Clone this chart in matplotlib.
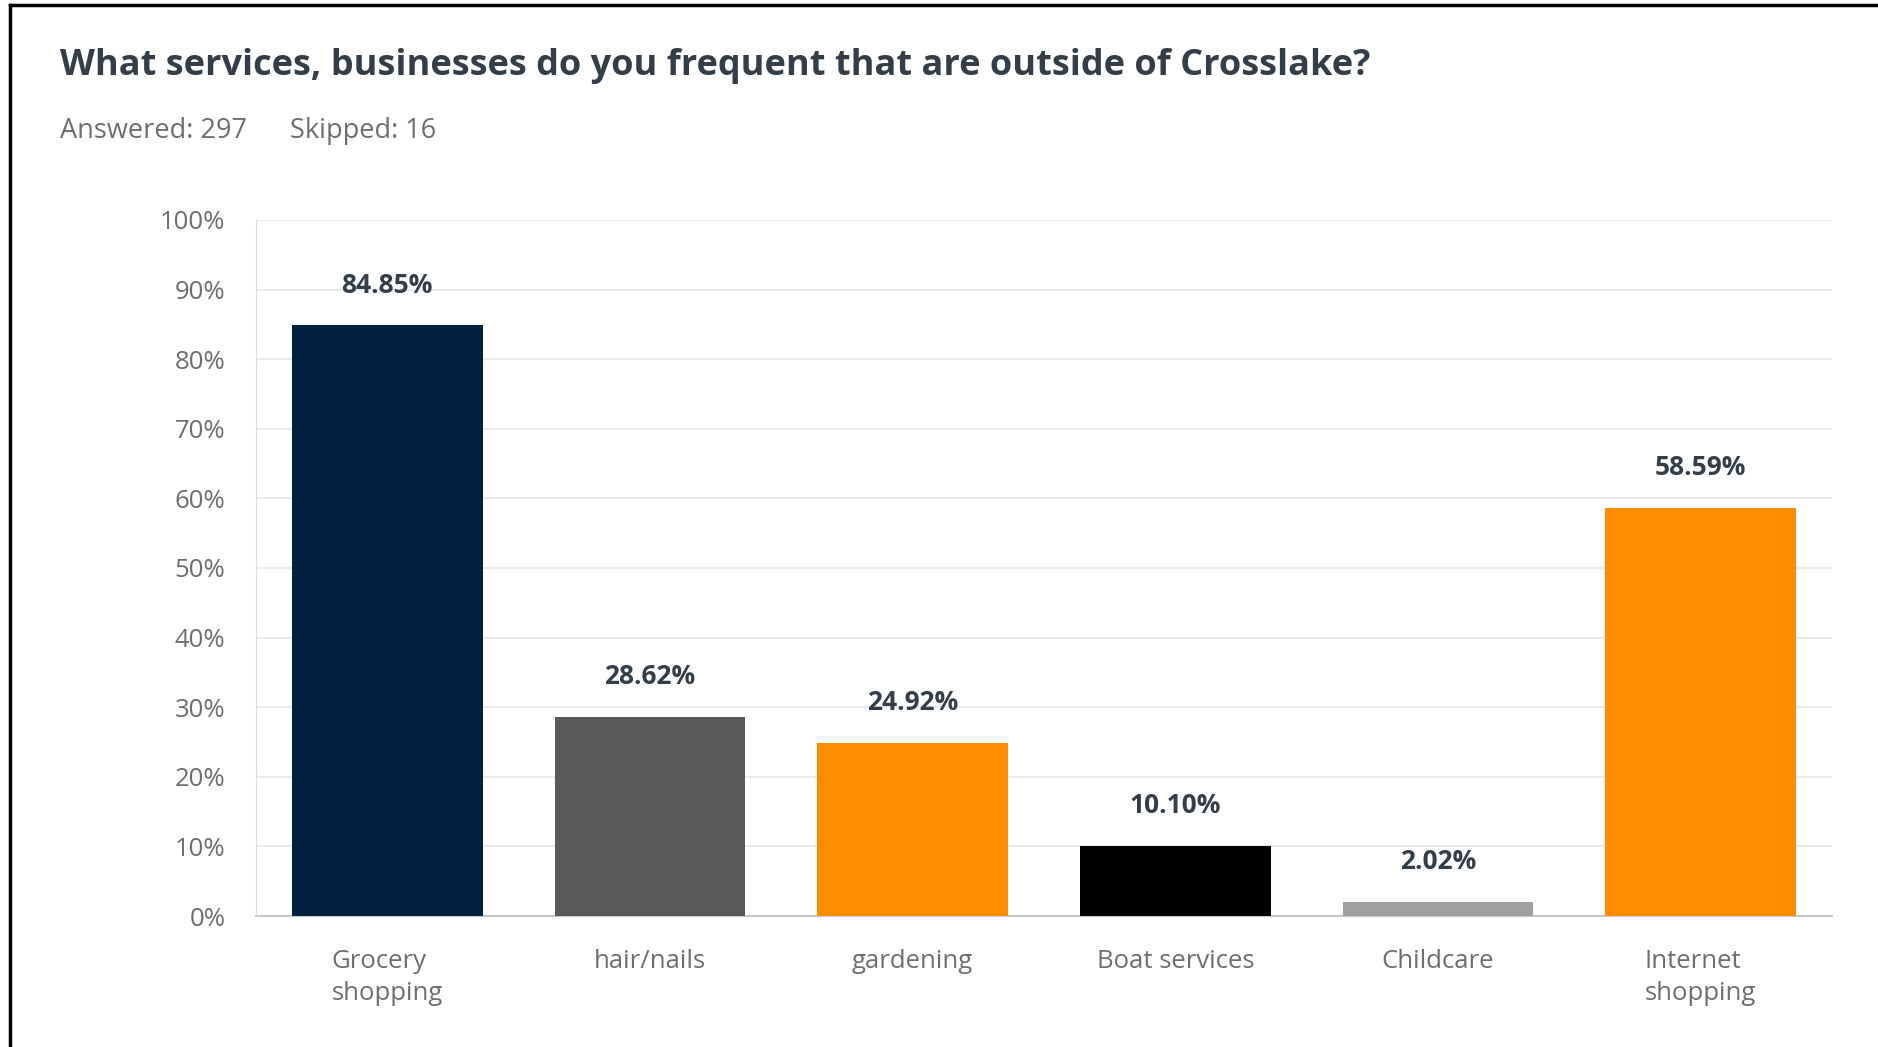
import matplotlib.pyplot as plt
from matplotlib.lines import Line2D

# Data
categories = ["Grocery\nshopping", "hair/nails", "gardening", "Boat services", "Childcare", "Internet\nshopping"]
values = [84.85, 28.62, 24.92, 10.10, 2.02, 58.59]
bar_colors = ["#00223f", "#58595b", "#ff8b00", "#000000", "#a0a0a0", "#ff8b00"]
yticks = [0, 10, 20, 30, 40, 50, 60, 70, 80, 90, 100]

title = "What services, businesses do you frequent that are outside of Crosslake?"
answered = "Answered: 297"
skipped = "Skipped: 16"

plt.rcParams['font.family'] = ['Open Sans', 'DejaVu Sans']

fig = plt.figure(figsize=(18.78, 10.47), dpi=100)
ax = fig.add_axes([0.1363, 0.1251, 0.8392, 0.6648])

x = range(len(categories))
ax.bar(x, values, width=0.725, color=bar_colors, zorder=3)

for i, v in enumerate(values):
    ax.annotate(f"{v:.2f}%", (i, v), xytext=(0, 29), textcoords="offset points",
                ha="center", va="center", fontsize=19, fontweight="bold", color="#333e48")

ax.set_xlim(-0.5, len(categories) - 0.5)
ax.set_ylim(0, 100)
ax.set_yticks(yticks)
ax.set_yticklabels([f"{t}%" for t in yticks])
ax.set_xticks(list(x))
ax.set_xticklabels(categories, multialignment="left", linespacing=1.35)
ax.tick_params(axis="y", length=0, pad=22, labelsize=18.5, labelcolor="#6d6e71")
ax.tick_params(axis="x", length=0, pad=24, labelsize=18.5, labelcolor="#6d6e71")

ax.grid(axis="y", color="#ececec", linewidth=1.5, zorder=0)
for s in ["top", "right"]:
    ax.spines[s].set_visible(False)
ax.spines["left"].set_color("#dddddd")
ax.spines["bottom"].set_color("#c8c8c8")
ax.spines["bottom"].set_linewidth(1.5)

fig.text(60 / 1878, 1 - 66 / 1047, title, fontsize=26, fontweight="bold",
         color="#333e48", va="center", ha="left")
fig.text(60 / 1878, 1 - 131 / 1047, answered, fontsize=19.5, color="#6d6e71", va="center", ha="left")
fig.text(290 / 1878, 1 - 131 / 1047, skipped, fontsize=19.5, color="#6d6e71", va="center", ha="left")

# frame lines (top and left)
fig.add_artist(Line2D([10 / 1878, 1], [1 - 5 / 1047, 1 - 5 / 1047], color="black", linewidth=2.5,
                      transform=fig.transFigure))
fig.add_artist(Line2D([10 / 1878, 10 / 1878], [0, 1 - 5 / 1047], color="black", linewidth=2.5,
                      transform=fig.transFigure))

fig.savefig("out.png", dpi=100)
